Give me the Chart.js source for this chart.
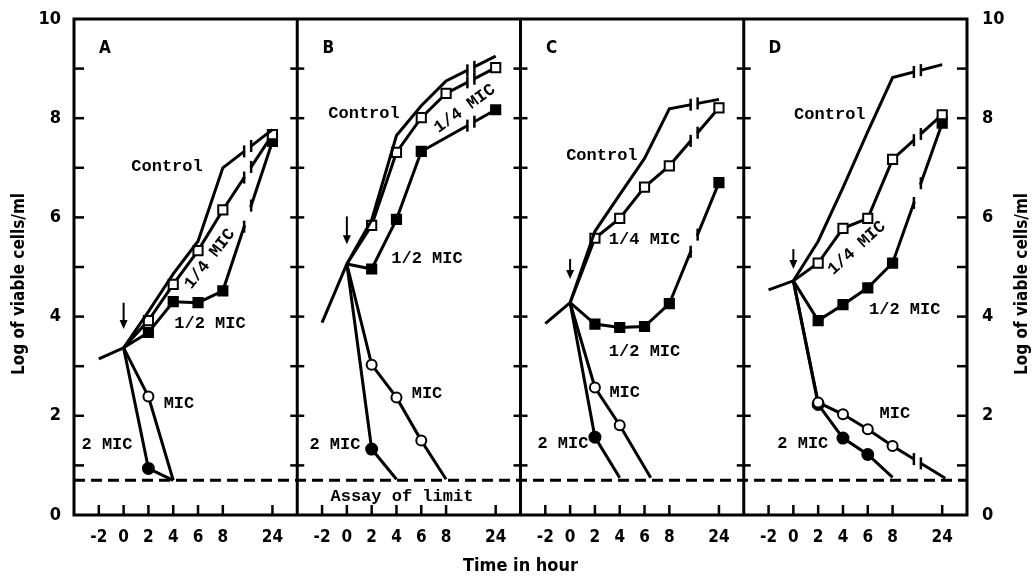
<!DOCTYPE html>
<html>
<head>
<meta charset="utf-8">
<script src="https://cdn.jsdelivr.net/npm/chart.js@4.4.1/dist/chart.umd.min.js"></script>
<style>
  html, body { margin: 0; padding: 0; background: #fff; }
</style>
</head>
<body>
<canvas id="chart" width="1036" height="576"></canvas>
<script>
// tick labels of each panel's time axis (hours)
const TICK_HOURS = [-2, 0, 2, 4, 6, 8, 24];
const PANELS = ["A", "B", "C", "D"];
const LIMIT = 0.7; // assay limit

const hoursControl = [-2, 0, 2, 4, 6, 8, 24];
const hoursSub = [0, 2, 4, 6, 8, 24];

// panel A
const controlA = [3.15, 3.37, 4.1, 4.86, 5.52, 7.0, 7.77];
const quarterA = [3.37, 3.92, 4.65, 5.33, 6.15, 7.67];
const halfA = [3.37, 3.68, 4.3, 4.28, 4.52, 7.53];
const micA_h = [0, 2, 4];
const micA = [3.37, 2.39, 0.7];
const twoMicA_h = [0, 2, 4];
const twoMicA = [3.37, 0.94, 0.7];

// panel B
const controlB = [3.88, 5.06, 5.95, 7.65, 8.25, 8.75, 9.25];
const quarterB = [5.06, 5.84, 7.31, 8.01, 8.5, 9.02];
const halfB_h = [0, 2, 4, 6, 24];
const halfB = [5.06, 4.96, 5.96, 7.33, 8.17];
const micB_h = [0, 2, 4, 6, 8];
const micB = [5.06, 3.03, 2.37, 1.5, 0.72];
const twoMicB_h = [0, 2, 4];
const twoMicB = [5.06, 1.33, 0.72];

// panel C
const controlC = [3.86, 4.28, 5.72, 6.46, 7.19, 8.19, 8.38];
const quarterC = [4.28, 5.58, 5.98, 6.61, 7.04, 8.21];
const halfC = [4.28, 3.85, 3.78, 3.8, 4.26, 6.7];
const micC_h = [0, 2, 4, 6.5];
const micC = [4.28, 2.57, 1.81, 0.75];
const twoMicC_h = [0, 2, 4];
const twoMicC = [4.28, 1.57, 0.75];

// panel D
const controlD = [4.54, 4.72, 5.52, 6.6, 7.73, 8.82, 9.08];
const quarterD = [4.72, 5.08, 5.78, 5.98, 7.17, 8.07];
const halfD = [4.72, 3.92, 4.24, 4.58, 5.08, 7.9];
const micD_h = [0, 2, 4, 6, 8, 25];
const micD = [4.72, 2.27, 2.03, 1.73, 1.39, 0.74];
const twoMicD_h = [0, 2, 4, 6, 8];
const twoMicD = [4.72, 2.23, 1.55, 1.22, 0.76];

const seriesList = [
  { panel: 0, kind: "control", hours: hoursControl, values: controlA },
  { panel: 0, kind: "quarter", hours: hoursSub, values: quarterA },
  { panel: 0, kind: "half", hours: hoursSub, values: halfA },
  { panel: 0, kind: "mic", hours: micA_h, values: micA },
  { panel: 0, kind: "twoMic", hours: twoMicA_h, values: twoMicA },
  { panel: 1, kind: "control", hours: hoursControl, values: controlB },
  { panel: 1, kind: "quarter", hours: hoursSub, values: quarterB },
  { panel: 1, kind: "half", hours: halfB_h, values: halfB },
  { panel: 1, kind: "mic", hours: micB_h, values: micB },
  { panel: 1, kind: "twoMic", hours: twoMicB_h, values: twoMicB },
  { panel: 2, kind: "control", hours: hoursControl, values: controlC },
  { panel: 2, kind: "quarter", hours: hoursSub, values: quarterC },
  { panel: 2, kind: "half", hours: hoursSub, values: halfC },
  { panel: 2, kind: "mic", hours: micC_h, values: micC },
  { panel: 2, kind: "twoMic", hours: twoMicC_h, values: twoMicC },
  { panel: 3, kind: "control", hours: hoursControl, values: controlD },
  { panel: 3, kind: "quarter", hours: hoursSub, values: quarterD },
  { panel: 3, kind: "half", hours: hoursSub, values: halfD },
  { panel: 3, kind: "mic", hours: micD_h, values: micD },
  { panel: 3, kind: "twoMic", hours: twoMicD_h, values: twoMicD },
];

// arrow (drug added at 0 h): top and tip, in log units
const arrowFrom = [4.28, 6.02, 5.16, 5.36];
const arrowTo = [3.75, 5.46, 4.76, 4.96];

// text labels: [text, x in chart units, log value, angle]
const labels = [
  ["Control", 3.75, 7.03, 0], ["1/4 MIC", 5.48, 5.16, -52], ["1/2 MIC", 5.48, 3.86, 0],
  ["MIC", 4.23, 2.25, 0], ["2 MIC", 1.33, 1.41, 0],
  ["Control", 11.69, 8.09, 0], ["1/4 MIC", 15.76, 8.19, -36], ["1/2 MIC", 14.23, 5.16, 0],
  ["MIC", 14.23, 2.45, 0], ["2 MIC", 10.52, 1.41, 0], ["Assay of limit", 13.22, 0.36, 0],
  ["Control", 21.28, 7.25, 0], ["1/4 MIC", 23.0, 5.56, 0], ["1/2 MIC", 23.0, 3.29, 0],
  ["MIC", 22.2, 2.47, 0], ["2 MIC", 19.71, 1.43, 0],
  ["Control", 30.47, 8.07, 0], ["1/4 MIC", 31.56, 5.38, -42], ["1/2 MIC", 33.49, 4.14, 0],
  ["MIC", 33.09, 2.05, 0], ["2 MIC", 29.38, 1.43, 0],
];

const PANEL_W = 9;
const NUM_FONT = '"Liberation Sans Narrow", "DejaVu Sans Condensed", sans-serif';
const MONO_FONT = '"Liberation Mono", "DejaVu Sans Mono", monospace';

// hours -> position on the shared x axis (broken scale after 8 h)
function xPos(panel, h) {
  let idx = h <= 8 ? (h + 2) / 2 : 5 + (h - 8) / 8;
  return panel * PANEL_W + 1 + idx;
}

const styles = {
  control: { pointStyle: "circle", fill: "#000", radius: 0 },
  quarter: { pointStyle: "rect", fill: "#fff", radius: 6.5 },
  half: { pointStyle: "rect", fill: "#000", radius: 6.5 },
  mic: { pointStyle: "circle", fill: "#fff", radius: 5 },
  twoMic: { pointStyle: "circle", fill: "#000", radius: 5.5 },
};

function buildDatasets() {
  let sets = seriesList.map(s => {
    let st = styles[s.kind];
    return {
      data: s.hours.map((h, i) => ({ x: xPos(s.panel, h), y: s.values[i] })),
      hours: s.hours,
      panel: s.panel,
      borderColor: "#000",
      borderWidth: 3,
      backgroundColor: st.fill,
      pointBackgroundColor: st.fill,
      pointBorderColor: "#000",
      pointBorderWidth: 2,
      pointStyle: st.pointStyle,
      pointRadius: s.hours.map((h, i) => (h <= 0 || s.values[i] < 0.8) ? 0 : st.radius),
      tension: 0,
      fill: false,
    };
  });
  sets.unshift({
    data: [{ x: 0, y: LIMIT }, { x: PANEL_W * 4, y: LIMIT }],
    borderColor: "#000",
    borderWidth: 3,
    borderDash: [11, 6],
    pointRadius: 0,
    fill: false,
  });
  return sets;
}

let tickPositions = [];
let tickText = {};
for (let p = 0; p < PANELS.length; p++) {
  TICK_HOURS.forEach(h => {
    let x = xPos(p, h);
    tickPositions.push(x);
    tickText[x.toFixed(3)] = String(h);
  });
}

const decorPlugin = {
  id: "decor",
  afterDatasetsDraw(chart) {
    // break marks on lines crossing the axis break
    let ctx = chart.ctx;
    let xs = chart.scales.x;
    chart.data.datasets.forEach((ds, di) => {
      if (!ds.hours) return;
      let meta = chart.getDatasetMeta(di);
      for (let i = 0; i < ds.hours.length - 1; i++) {
        if (ds.hours[i] <= 8 && ds.hours[i + 1] >= 24) {
          let a = meta.data[i], b = meta.data[i + 1];
          let bx = xs.getPixelForValue(xPos(ds.panel, 16));
          let t = (bx - a.x) / (b.x - a.x);
          let by = a.y + t * (b.y - a.y);
          let slope = (b.y - a.y) / (b.x - a.x);
          ctx.save();
          ctx.strokeStyle = "#fff";
          ctx.lineWidth = 6;
          ctx.beginPath();
          ctx.moveTo(bx - 3, by - 3 * slope);
          ctx.lineTo(bx + 3, by + 3 * slope);
          ctx.stroke();
          ctx.strokeStyle = "#000";
          ctx.lineWidth = 2.5;
          [-3.5, 3.5].forEach(d => {
            let cy = by + d * slope;
            ctx.beginPath();
            ctx.moveTo(bx + d, cy - 6);
            ctx.lineTo(bx + d, cy + 6);
            ctx.stroke();
          });
          ctx.restore();
        }
      }
    });
  },
  afterDraw(chart) {
    let ctx = chart.ctx;
    let area = chart.chartArea;
    let xs = chart.scales.x, ys = chart.scales.y;
    ctx.save();
    ctx.strokeStyle = "#000";
    ctx.fillStyle = "#000";
    ctx.lineCap = "butt";

    // frame and panel dividers
    ctx.lineWidth = 3;
    ctx.strokeRect(area.left, area.top, area.right - area.left, area.bottom - area.top);
    for (let p = 1; p < PANELS.length; p++) {
      let x = xs.getPixelForValue(p * PANEL_W);
      ctx.beginPath();
      ctx.moveTo(x, area.top);
      ctx.lineTo(x, area.bottom);
      ctx.stroke();
    }

    // y tick marks on every border
    ctx.lineWidth = 2.5;
    for (let p = 0; p <= PANELS.length; p++) {
      let x = xs.getPixelForValue(p * PANEL_W);
      for (let v = 1; v <= 9; v++) {
        let y = ys.getPixelForValue(v);
        let x0 = p === 0 ? x : x - 7;
        let x1 = p === PANELS.length ? x : x + 7;
        if (p === 0) x1 = x + 10;
        if (p === PANELS.length) x0 = x - 10;
        ctx.beginPath();
        ctx.moveTo(x0, y);
        ctx.lineTo(x1, y);
        ctx.stroke();
      }
    }

    // x tick marks
    tickPositions.forEach(v => {
      let x = xs.getPixelForValue(v);
      ctx.beginPath();
      ctx.moveTo(x, area.bottom);
      ctx.lineTo(x, area.bottom - 10);
      ctx.stroke();
    });

    // arrows at 0 h
    ctx.lineWidth = 2;
    for (let p = 0; p < PANELS.length; p++) {
      let x = xs.getPixelForValue(xPos(p, 0));
      let y0 = ys.getPixelForValue(arrowFrom[p]);
      let y1 = ys.getPixelForValue(arrowTo[p]);
      ctx.beginPath();
      ctx.moveTo(x, y0);
      ctx.lineTo(x, y1 - 6);
      ctx.stroke();
      ctx.beginPath();
      ctx.moveTo(x - 4, y1 - 9);
      ctx.lineTo(x + 4, y1 - 9);
      ctx.lineTo(x, y1);
      ctx.closePath();
      ctx.fill();
    }

    // panel letters
    ctx.font = "bold 17px " + NUM_FONT;
    ctx.textAlign = "center";
    ctx.textBaseline = "middle";
    for (let p = 0; p < PANELS.length; p++) {
      ctx.fillText(PANELS[p], xs.getPixelForValue(p * PANEL_W + 1.25), ys.getPixelForValue(9.4));
    }

    // curve labels
    ctx.font = "bold 17px " + MONO_FONT;
    labels.forEach(([txt, x, v, ang]) => {
      ctx.save();
      ctx.translate(xs.getPixelForValue(x), ys.getPixelForValue(v));
      ctx.rotate(ang * Math.PI / 180);
      ctx.fillText(txt, 0, 0);
      ctx.restore();
    });

    // axis titles
    ctx.font = "bold 18px " + NUM_FONT;
    ctx.fillText("Time in hour", (area.left + area.right) / 2, 566);
    ctx.font = "bold 17px " + NUM_FONT;
    [20, 1023].forEach(x => {
      ctx.save();
      ctx.translate(x, 284);
      ctx.rotate(-Math.PI / 2);
      ctx.fillText("Log of viable cells/ml", 0, 0);
      ctx.restore();
    });
    ctx.restore();
  },
};

const yTickCb = v => (v % 2 === 0 ? String(v) : "");
// keep the y label padding from pushing the plot top down
const fitY = w => s => { s.width = w; s.paddingTop = 0; s.paddingBottom = 0; };

new Chart(document.getElementById("chart"), {
  type: "line",
  data: { datasets: buildDatasets() },
  options: {
    responsive: false,
    animation: false,
    layout: { padding: { top: 19, left: 0, right: 0, bottom: 0 } },
    plugins: { legend: { display: false }, tooltip: { enabled: false } },
    scales: {
      x: {
        type: "linear",
        min: 0,
        max: PANEL_W * 4,
        afterBuildTicks: s => { s.ticks = tickPositions.map(v => ({ value: v })); },
        afterFit: s => { s.height = 61; s.paddingLeft = 0; s.paddingRight = 0; },
        grid: { display: false, drawTicks: false },
        border: { display: false },
        ticks: {
          autoSkip: false,
          maxRotation: 0,
          padding: 12,
          color: "#000",
          font: { family: NUM_FONT, size: 17, weight: "bold" },
          callback: v => tickText[Number(v).toFixed(3)] || "",
        },
      },
      y: {
        type: "linear",
        position: "left",
        min: 0,
        max: 10,
        afterFit: fitY(74),
        grid: { display: false, drawTicks: false },
        border: { display: false },
        ticks: {
          stepSize: 1,
          autoSkip: false,
          padding: 13,
          color: "#000",
          font: { family: NUM_FONT, size: 18, weight: "bold" },
          callback: yTickCb,
        },
      },
      y2: {
        type: "linear",
        position: "right",
        min: 0,
        max: 10,
        afterFit: fitY(69),
        grid: { display: false, drawTicks: false },
        border: { display: false },
        ticks: {
          stepSize: 1,
          autoSkip: false,
          padding: 15,
          color: "#000",
          font: { family: NUM_FONT, size: 18, weight: "bold" },
          callback: yTickCb,
        },
      },
    },
  },
  plugins: [decorPlugin],
});
</script>
</body>
</html>
